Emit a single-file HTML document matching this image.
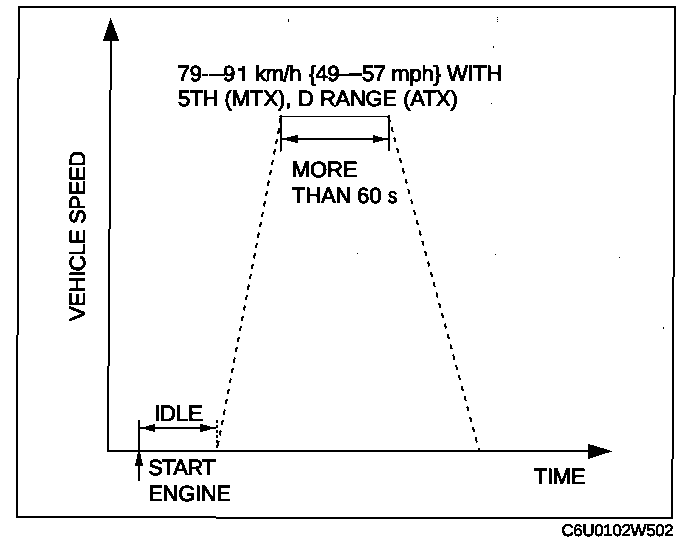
<!DOCTYPE html>
<html>
<head>
<meta charset="utf-8">
<style>
html,body{margin:0;padding:0;background:#fff;}
body{width:688px;height:542px;overflow:hidden;}
svg{display:block;}
text{text-rendering:geometricPrecision;font-family:"Liberation Sans",sans-serif;fill:#000;stroke:#000;stroke-width:1.0px;}
</style>
</head>
<body>
<svg width="688" height="542" viewBox="0 0 688 542">
<defs><filter id="th" x="0" y="0" width="688" height="542" filterUnits="userSpaceOnUse" color-interpolation-filters="sRGB"><feComponentTransfer><feFuncR type="discrete" tableValues="0 1"/><feFuncG type="discrete" tableValues="0 1"/><feFuncB type="discrete" tableValues="0 1"/></feComponentTransfer></filter></defs>
<g filter="url(#th)">
<rect x="0" y="0" width="688" height="542" fill="#fff"/>
<!-- frame -->
<polygon points="18.8,6.8 675,7 672.2,518.2 16.8,517.2" fill="none" stroke="#000" stroke-width="2" shape-rendering="crispEdges"/>
<!-- vertical axis -->
<line x1="110.9" y1="38" x2="107.9" y2="451" stroke="#000" stroke-width="2" shape-rendering="crispEdges"/>
<polygon points="110.5,17.5 119.3,41 102.8,41" fill="#000"/>
<!-- horizontal axis -->
<line x1="107.2" y1="450.8" x2="592" y2="450.8" stroke="#000" stroke-width="2"/>
<polygon points="612.5,451.3 588,443.8 588,459" fill="#000"/>

<!-- plateau bracket -->
<rect x="279.6" y="115" width="2" height="36.5" fill="#000"/>
<rect x="387.8" y="115" width="2" height="36" fill="#000"/>
<rect x="279.6" y="115.7" width="110.2" height="1.5" fill="#000"/>
<line x1="281" y1="139.1" x2="387.5" y2="139.1" stroke="#000" stroke-width="2"/>
<polygon points="281.5,139.1 297.5,134.8 297.5,143.3" fill="#000"/>
<polygon points="388,139.1 372.6,134.9 372.6,143.3" fill="#000"/>

<!-- dashed ramps -->
<line x1="281" y1="118" x2="217" y2="450" stroke="#000" stroke-width="2.1" stroke-dasharray="5.3 5.3"/>
<line x1="388.63" y1="116.65" x2="479" y2="450" stroke="#000" stroke-width="2.1" stroke-dasharray="5.2 5.52"/>

<!-- IDLE bracket -->
<line x1="139" y1="420" x2="139" y2="480.5" stroke="#000" stroke-width="2"/>
<polygon points="139,448.5 143.3,466 134.7,466" fill="#000"/>
<line x1="140" y1="428" x2="216" y2="428" stroke="#000" stroke-width="2"/>
<polygon points="140.5,428 155.3,423.8 155.3,432.2" fill="#000"/>
<polygon points="216,428 200,423.8 200,432.2" fill="#000"/>
<line x1="217" y1="420" x2="217" y2="450" stroke="#000" stroke-width="1.2" stroke-dasharray="3 2"/>

<!-- dashes in line 1 -->
<rect x="202" y="73.6" width="6.3" height="2.4" fill="#000"/>
<rect x="209.2" y="73.6" width="15.4" height="2.4" fill="#000"/>
<rect x="339.3" y="73.8" width="9.7" height="2" fill="#000"/>
<rect x="349" y="73.2" width="12.7" height="3.2" fill="#000"/>

<!-- specks -->
<rect x="288" y="19.5" width="1" height="2" fill="#000"/>
<rect x="497" y="17" width="1" height="1" fill="#000"/>
<rect x="497" y="19" width="1" height="1" fill="#000"/>
<rect x="497" y="21" width="1" height="1" fill="#000"/>
<rect x="493" y="46.5" width="1.2" height="1.2" fill="#000"/>
<rect x="491" y="103" width="1.2" height="1.2" fill="#000"/>
<rect x="357" y="253" width="1.2" height="1.2" fill="#000"/>
<rect x="495" y="254" width="1.2" height="1.2" fill="#000"/>
<rect x="619" y="257" width="1.2" height="1.2" fill="#000"/>
<rect x="663" y="327.5" width="1.2" height="1.2" fill="#000"/>
<!-- texts -->
<path d="M238,68H242V66H245V81H242V71H238Z" fill="#000"/>
<text x="177.5" y="81" font-size="22">79</text>
<text x="223.1" y="81" font-size="22">9</text>
<text x="255.0" y="81" font-size="22" letter-spacing="-0.40">km/h</text>
<text x="308.7" y="81" font-size="22" letter-spacing="-0.50">{49</text>
<text x="362.0" y="81" font-size="22" letter-spacing="-0.80">57</text>
<text x="391.3" y="81" font-size="22" letter-spacing="-0.17">mph}</text>
<text x="446.9" y="81" font-size="22" letter-spacing="-0.30">WITH</text>
<text x="178.0" y="106" font-size="22" letter-spacing="-0.50">5TH</text>
<text x="224.6" y="106" font-size="22" letter-spacing="-0.08">(MTX),</text>
<text x="298.0" y="106" font-size="22">D</text>
<text x="319.9" y="106" font-size="22" letter-spacing="-0.27">RANGE</text>
<text x="403.2" y="106" font-size="22" letter-spacing="-0.30">(ATX)</text>
<text x="291.8" y="177" font-size="22" letter-spacing="-0.10">MORE</text>
<text x="292.1" y="203" font-size="22" letter-spacing="-0.17">THAN</text>
<text x="357.0" y="203" font-size="22" letter-spacing="0.10">60</text>
<text x="388.1" y="203" font-size="22" textLength="9.2" lengthAdjust="spacingAndGlyphs">s</text>
<text x="153.9" y="421" font-size="22.5" letter-spacing="-0.30">IDLE</text>
<text x="148.2" y="475" font-size="22" letter-spacing="-0.67">START</text>
<text x="148.2" y="501" font-size="22" letter-spacing="-0.30">ENGINE</text>
<text x="534.0" y="484" font-size="22" letter-spacing="-0.37">TIME</text>
<text x="561.5" y="536" font-size="16.8" letter-spacing="-0.26" style="stroke-width:0.8px">C6U0102W502</text>
<text transform="translate(85,321) rotate(-90)" x="0" y="0" font-size="22" letter-spacing="-0.4">VEHICLE SPEED</text>
</g>
</svg>
</body>
</html>
